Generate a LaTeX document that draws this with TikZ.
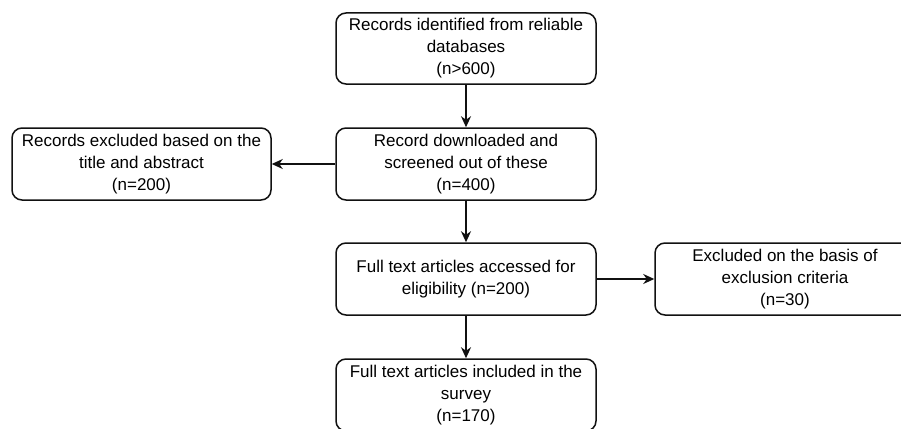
\documentclass[tikz,border=0pt]{standalone}
\usepackage{fontspec}
\setmainfont{Liberation Sans}
\usetikzlibrary{arrows.meta}
\definecolor{edge}{HTML}{111111}
\tikzset{
  flowbox/.style={draw=edge, line width=1.5pt, rounded corners=10pt, fill=white,
    minimum width=260pt, minimum height=72pt, inner sep=2pt, align=center,
    font=\fontsize{17}{22}\selectfont},
  flowarrow/.style={draw=edge, line width=1.5pt, -{Stealth[length=11pt,width=10pt,inset=3.5pt]}}
}
\begin{document}
\begin{tikzpicture}[x=1pt, y=-1pt]
  \useasboundingbox (0,0) rectangle (901,428);
  \clip (0,0) rectangle (901,428);
  \fill[white] (0,0) rectangle (901,428);

  \node[flowbox, minimum height=71pt] (ident) at (466,48.5)
    {Records identified from reliable\\databases\\(n>600)};
  \node[flowbox] (screen) at (466,164)
    {Record downloaded and\\screened out of these\\(n=400)};
  \node[flowbox, minimum width=259pt] (excl1) at (141.5,164)
    {Records excluded based on the\\title and abstract\\(n=200)};
  \node[flowbox] (elig) at (466,279)
    {Full text articles accessed for\\eligibility (n=200)};
  \node[flowbox] (excl2) at (785,279)
    {Excluded on the basis of\\exclusion criteria\\(n=30)};
  \node[flowbox] (incl) at (466,395)
    {Full text articles included in the\\survey\\(n=170)};

  \draw[flowarrow] (ident) -- (screen);
  \draw[flowarrow] (screen) -- (excl1);
  \draw[flowarrow] (screen) -- (elig);
  \draw[flowarrow] (elig) -- (excl2);
  \draw[flowarrow] (elig) -- (incl);
\end{tikzpicture}
\end{document}
